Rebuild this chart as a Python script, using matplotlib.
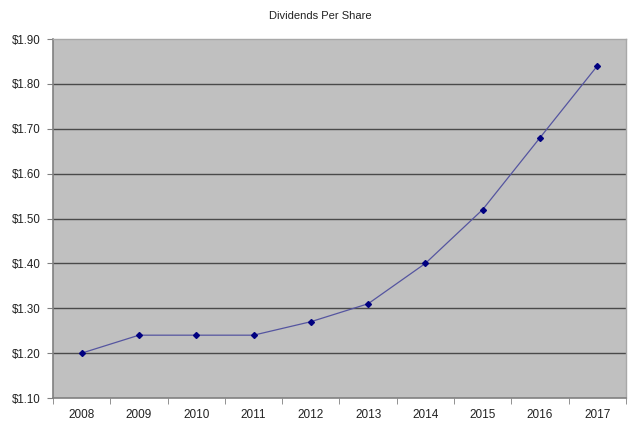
import matplotlib.pyplot as plt
from matplotlib.ticker import FixedLocator

plt.rcParams['font.family'] = ['Liberation Sans', 'DejaVu Sans']

years = ['2008', '2009', '2010', '2011', '2012', '2013', '2014', '2015', '2016', '2017']
dividends = [1.20, 1.24, 1.24, 1.24, 1.27, 1.31, 1.40, 1.52, 1.68, 1.84]
y_ticks = [1.10, 1.20, 1.30, 1.40, 1.50, 1.60, 1.70, 1.80, 1.90]

fig = plt.figure(figsize=(6.4, 4.3), dpi=100)
ax = fig.add_axes([0.0828, 0.0744, 0.8952, 0.8349])
ax.set_facecolor('#C0C0C0')

x = list(range(len(years)))
ax.plot(x, dividends, color='#5555A0', lw=0.9, zorder=3)
ax.plot(x, dividends, ls='none', marker='D', ms=3.0, color='#000080', zorder=4)

ax.set_xlim(-0.5, len(years) - 0.5)
ax.set_ylim(1.10, 1.90)
ax.set_yticks(y_ticks)
ax.set_yticklabels([f'${v:.2f}' for v in y_ticks])
ax.set_xticks(x)
ax.set_xticklabels(years)
ax.xaxis.set_minor_locator(FixedLocator([i + 0.5 for i in range(-1, len(years))]))

# inner gridlines only; the top edge is the lighter plot border
for v in y_ticks[1:-1]:
    ax.axhline(v, color='#4A4A4A', lw=1.0, zorder=1)

for side in ['top', 'right']:
    ax.spines[side].set_color('#A8A8A8')
    ax.spines[side].set_linewidth(1.0)
for side in ['left', 'bottom']:
    ax.spines[side].set_color('#808080')
    ax.spines[side].set_linewidth(1.2)

ax.tick_params(axis='y', direction='out', length=4, color='#808080', labelsize=8.3,
               labelcolor='#222222', pad=5)
ax.tick_params(axis='x', which='major', length=0, labelsize=8.5, labelcolor='#222222', pad=8)
ax.tick_params(axis='x', which='minor', direction='out', length=4, color='#808080')

fig.text(0.5, 1 - 16 / 430, 'Dividends Per Share', fontsize=8, color='#222222',
         ha='center', va='center')

fig.savefig('out.png', dpi=100)
